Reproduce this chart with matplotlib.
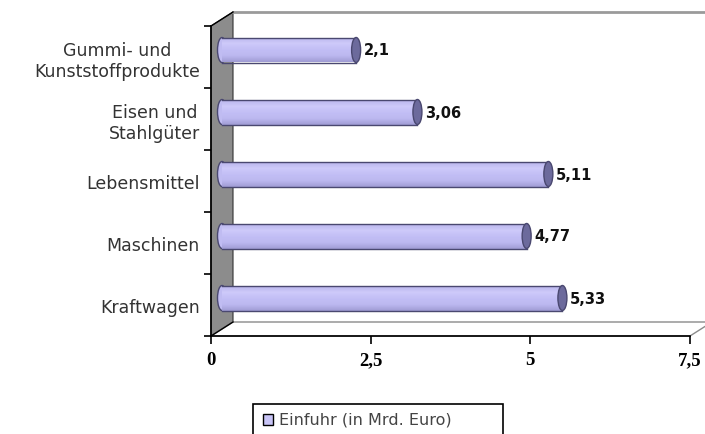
import numpy as np
import matplotlib
matplotlib.use("Agg")
import matplotlib.pyplot as plt
from matplotlib.patches import Polygon, Rectangle, Ellipse
from matplotlib.colors import LinearSegmentedColormap

# data (bottom to top)
categories = ["Kraftwagen", "Maschinen", "Lebensmittel", "Eisen und\nStahlgüter",
              "Gummi- und\nKunststoffprodukte"]
values = [5.33, 4.77, 5.11, 3.06, 2.1]
xticks = [0, 2.5, 5, 7.5]
xtick_labels = ["0", "2,5", "5", "7,5"]
legend_label = "Einfuhr (in Mrd. Euro)"

W, H = 705, 435
fig = plt.figure(figsize=(W / 100, H / 100), dpi=100)
ax = fig.add_axes([211 / W, 98 / H, 479 / W, 310 / H])
ax.set_xlim(0, 7.5)
ax.set_ylim(0, len(categories))

# 3d depth offset in data units
dx = 22 / (479 / 7.5)
dy = 14 / 62
n = len(categories)

# side wall, back line, floor
ax.add_patch(Polygon([(0, 0), (dx, dy), (dx, n + dy), (0, n)], closed=True,
                     facecolor="#8c8c8c", edgecolor="#333333", lw=0.8,
                     clip_on=False, zorder=1))
ax.plot([dx, 7.5 + dx], [n + dy, n + dy], color="#9a9a9a", lw=2,
        clip_on=False, zorder=1)
ax.plot([0, dx], [n, n + dy], color="black", lw=1, clip_on=False, zorder=2)
ax.add_patch(Polygon([(0, 0), (7.5, 0), (7.5 + dx, dy), (dx, dy)], closed=True,
                     facecolor="white", edgecolor="#8a8a8a", lw=1,
                     clip_on=False, zorder=1))
ax.plot([0, dx], [0, dy], color="black", lw=1, clip_on=False, zorder=2)

# cylinder bars
cmap = LinearSegmentedColormap.from_list(
    "bar", ["#a09cd4", "#bcb8f0", "#c2bef5", "#cecafa", "#bab6ec"])
grad = np.linspace(0, 1, 64).reshape(-1, 1)
bh = 25 / 62
capw = 9 / (479 / 7.5)
edge = "#4a4870"
for i, v in enumerate(values):
    c = i + 0.5 + dy / 2
    x0 = dx / 2
    x1 = v + dx / 2
    ax.add_patch(Ellipse((x0, c), capw, bh, facecolor="#c0bcf2",
                         edgecolor=edge, lw=1, zorder=3))
    body = Rectangle((x0, c - bh / 2), x1 - x0, bh, facecolor="none",
                     edgecolor="none", zorder=4)
    ax.add_patch(body)
    im = ax.imshow(grad, cmap=cmap, aspect="auto", origin="lower",
                   extent=[x0, x1, c - bh / 2, c + bh / 2], zorder=4)
    im.set_clip_path(body)
    ax.plot([x0, x1], [c - bh / 2, c - bh / 2], color=edge, lw=1, zorder=5)
    ax.plot([x0, x1], [c + bh / 2, c + bh / 2], color=edge, lw=1, zorder=5)
    ax.add_patch(Ellipse((x1, c), capw, bh, facecolor="#6c6a9c",
                         edgecolor=edge, lw=1, zorder=6))
    ax.text(x1 + 0.12, c, f"{v:g}".replace(".", ","), ha="left", va="center",
            fontsize=10.5, fontweight="bold", color="#111111", zorder=7)

ax.set_xlim(0, 7.5)
ax.set_ylim(0, n)

# axes
for s in ["top", "right"]:
    ax.spines[s].set_visible(False)
for s in ["left", "bottom"]:
    ax.spines[s].set_color("black")
    ax.spines[s].set_linewidth(1.2)
    ax.spines[s].set_zorder(8)
ax.set_xticks(xticks)
ax.set_xticklabels(xtick_labels, fontfamily="Liberation Serif",
                   fontweight="bold", fontsize=13.5)
ax.tick_params(axis="x", direction="out", length=6, width=1.2, pad=5)
ax.set_yticks(range(n + 1))
ax.set_yticklabels([])
ax.tick_params(axis="y", which="major", direction="out", length=5, width=1.2)
ax.set_yticks([i + 0.5 for i in range(n)], minor=True)
ax.set_yticklabels(categories, minor=True, fontsize=12.5, color="#333333",
                   ha="right", linespacing=1.2)
for lbl in ax.get_yticklabels(minor=True):
    lbl.set_multialignment("center")
ax.tick_params(axis="y", which="minor", length=0, pad=8)
ax.patch.set_visible(False)

# legend box (cut at the bottom like the original)
fig.add_artist(Rectangle((253 / W, -10 / H), 250 / W, 40 / H,
                         transform=fig.transFigure, fill=False,
                         edgecolor="black", lw=1.2))
fig.add_artist(Rectangle((263 / W, (H - 426) / H), 10 / W, 11 / H,
                         transform=fig.transFigure, facecolor="#c8c4f6",
                         edgecolor="black", lw=1))
fig.text(279 / W, (H - 420) / H, legend_label, ha="left", va="center",
         fontsize=11.5, color="#444444")

fig.savefig("out.png", dpi=100)
